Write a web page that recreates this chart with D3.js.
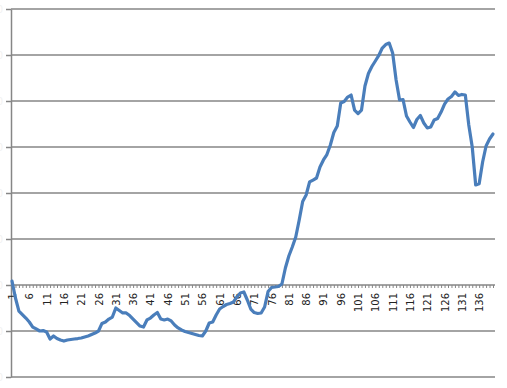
<!DOCTYPE html>
<html>
<head>
<meta charset="utf-8">
<script src="https://cdn.jsdelivr.net/npm/d3@7"></script>
<style>
  body { margin:0; background:#fff; }
  svg { display:block; }
</style>
</head>
<body>
<svg id="chart" width="507" height="388"></svg>
<script>
// values, one per category 1..140
var values = [
  4.3, -14.1, -28.3, -32.1, -35.9, -40.2, -45.7, -47.8, -50.0, -49.5,
  -51.1, -58.7, -55.4, -58.2, -59.8, -60.9, -59.8, -59.2, -58.7, -58.2,
  -57.6, -56.5, -55.4, -53.8, -52.2, -50.0, -41.8, -40.2, -37.0, -34.8,
  -25.0, -27.7, -30.4, -30.4, -33.2, -37.0, -40.8, -44.6, -45.7, -38.0,
  -35.9, -32.6, -29.9, -37.0, -38.0, -37.0, -39.1, -43.5, -46.7, -48.9,
  -50.5, -51.6, -52.7, -53.8, -54.9, -55.4, -50.0, -41.3, -40.2, -32.6,
  -26.1, -23.4, -21.2, -20.1, -18.5, -13.0, -8.7, -7.6, -16.3, -26.1,
  -29.9, -31.0, -30.4, -23.9, -7.1, -2.7, -2.2, -1.6, 1.1, 18.5,
  31.5, 41.3, 52.2, 70.7, 90.8, 97.8, 112.0, 114.1, 116.3, 128.3,
  135.9, 141.8, 152.2, 165.8, 172.8, 197.8, 199.5, 204.3, 206.5, 190.2,
  186.4, 190.2, 216.3, 229.9, 237.5, 243.5, 249.5, 257.6, 261.4, 263.0,
  252.2, 222.8, 201.1, 201.6, 183.7, 177.2, 171.2, 179.9, 184.2, 176.1,
  170.7, 171.7, 179.3, 181.0, 188.0, 196.7, 202.2, 204.9, 209.8, 206.0,
  207.1, 206.5, 173.9, 150.0, 108.7, 110.0, 133.7, 151.1, 158.7, 164.1
];
var categories = values.map(function(d,i) { return i+1; });
var xLabels = categories.filter(function(c) { return (c-1)%5==0; });
var yTicks = [-100, -50, 0, 50, 100, 150, 200, 250, 300];

var svg = d3.select("#chart");
var x = d3.scalePoint().domain(categories).range([12, 493]);
var y = d3.scaleLinear().domain([-100, 300]).range([377, 9]);
var gridColor = "#868686";

// horizontal gridlines
svg.append("g").selectAll("line")
  .data(yTicks.filter(function(t) { return t!=0; }))
  .enter().append("line")
  .attr("x1", 11).attr("x2", 495)
  .attr("y1", function(d) { return y(d); })
  .attr("y2", function(d) { return y(d); })
  .attr("stroke", gridColor)
  .attr("stroke-width", 1.5);

// y axis, labels nearly invisible and cut at the left edge as in the picture
var yAxis = svg.append("g").attr("transform", "translate(11,0)")
  .call(d3.axisLeft(y).tickValues(yTicks).tickSize(5).tickSizeOuter(0));
yAxis.select(".domain").attr("stroke", gridColor).attr("stroke-width", 1.5);
yAxis.selectAll(".tick line").attr("stroke", gridColor).attr("stroke-width", 1.5);
yAxis.selectAll("text")
  .attr("fill", "#f2f2f2")
  .style("font-family", "DejaVu Sans")
  .style("font-size", "10px");

// x axis on zero
var xAxis = svg.append("g").attr("transform", "translate(0," + y(0) + ")")
  .call(d3.axisBottom(x).tickSize(3).tickSizeOuter(0)
        .tickFormat(function(d) { return xLabels.indexOf(d)>=0 ? d : ""; }));
xAxis.select(".domain").attr("stroke", gridColor).attr("stroke-width", 1.5)
  .attr("d", "M11,0H495");
xAxis.selectAll(".tick line").attr("stroke", gridColor).attr("stroke-width", 1);
xAxis.selectAll("text")
  .attr("transform", "rotate(-90)")
  .attr("x", -8).attr("y", 0).attr("dy", "0.35em")
  .style("text-anchor", "end")
  .style("font-family", "DejaVu Sans")
  .style("font-size", "10px")
  .attr("fill", "#222");

// the series
var line = d3.line()
  .x(function(d,i) { return x(categories[i]); })
  .y(function(d) { return y(d); });

svg.append("path")
  .datum(values)
  .attr("d", line)
  .attr("fill", "none")
  .attr("stroke", "#4a7ebb")
  .attr("stroke-width", 3.2)
  .attr("stroke-linejoin", "round")
  .attr("stroke-linecap", "round");
</script>
</body>
</html>
